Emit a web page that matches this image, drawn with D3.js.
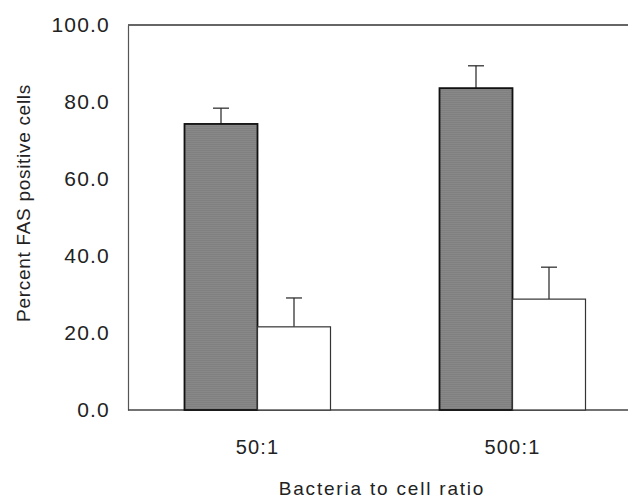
<!DOCTYPE html>
<html>
  <head>
    <meta charset="utf-8">
    <title>Percent FAS positive cells</title>
    <script src="https://d3js.org/d3.v7.min.js"></script>
    <style>
      body { margin: 0; background: #fff; }
      text { font-family: "Liberation Sans", Arial, sans-serif; fill: #222; }
    </style>
  </head>
  <body>
    <svg id="chart" width="628" height="499"></svg>
    <script>
      // data
      var ratios = ["50:1", "500:1"];
      var series = ["filled", "open"];
      var means = [[74.3, 21.6], [83.6, 28.8]];
      var errors = [[4.1, 7.5], [5.8, 8.3]];
      var yTicks = [0, 20, 40, 60, 80, 100];

      var margin = { top: 25, right: 0, bottom: 89, left: 128 };
      var svg = d3.select("#chart");
      var width = 628, height = 499;

      // halftone-ish fill for the dark bars
      var defs = svg.append("defs");
      var pat = defs.append("pattern")
        .attr("id", "halftone")
        .attr("width", 2).attr("height", 2)
        .attr("patternUnits", "userSpaceOnUse");
      pat.append("rect").attr("width", 2).attr("height", 2).attr("fill", "#bcbcbc");
      pat.append("rect").attr("width", 1).attr("height", 1).attr("fill", "#444");
      pat.append("rect").attr("x", 1).attr("y", 1).attr("width", 1).attr("height", 1).attr("fill", "#555");

      var y = d3.scaleLinear()
        .domain([0, 100])
        .range([height - margin.bottom, margin.top]);
      var x = d3.scaleBand()
        .domain(ratios)
        .range([margin.left + 2, 640]);
      var x1 = d3.scaleBand()
        .domain(series)
        .range([0, 146]);

      // frame: top line, left and bottom axes
      svg.append("line")
        .attr("x1", margin.left).attr("x2", width)
        .attr("y1", y(100)).attr("y2", y(100))
        .attr("stroke", "#333").attr("stroke-width", 1.5);

      var yAxis = svg.append("g")
        .attr("transform", "translate(" + margin.left + ",0)")
        .call(d3.axisLeft(y).tickValues(yTicks).tickSize(0).tickPadding(18).tickFormat(d3.format(".1f")));
      yAxis.select(".domain").attr("stroke", "#555").attr("stroke-width", 1.2);
      yAxis.selectAll("text")
        .style("font-size", "21px")
        .style("letter-spacing", "1.2px")
        .attr("fill", "#333");

      var xAxis = svg.append("g")
        .attr("transform", "translate(0," + y(0) + ")")
        .call(d3.axisBottom(x).tickSize(0).tickPadding(30));
      xAxis.select(".domain").attr("d", "M" + margin.left + ",0H" + width).attr("stroke", "#444").attr("stroke-width", 1.5);
      xAxis.selectAll("text")
        .style("font-size", "20px")
        .style("letter-spacing", "1.2px")
        .attr("fill", "#333");

      // bars
      var groups = svg.selectAll(".group")
        .data(ratios)
        .enter().append("g")
          .attr("class", "group")
          .attr("transform", function(d) { return "translate(" + (x(d) + x.bandwidth() / 2 - 73) + ",0)"; });

      groups.each(function(r, i) {
        var g = d3.select(this);
        series.forEach(function(s, j) {
          var v = means[i][j], e = errors[i][j];
          var cx = x1(s) + x1.bandwidth() / 2;
          // error bar (upper only)
          g.append("line")
            .attr("x1", cx).attr("x2", cx)
            .attr("y1", y(v)).attr("y2", y(v + e))
            .attr("stroke", "#222").attr("stroke-width", 1.2);
          g.append("line")
            .attr("x1", cx - 8).attr("x2", cx + 8)
            .attr("y1", y(v + e)).attr("y2", y(v + e))
            .attr("stroke", "#222").attr("stroke-width", 1.2);
          g.append("rect")
            .attr("x", x1(s))
            .attr("y", y(v))
            .attr("width", x1.bandwidth())
            .attr("height", y(0) - y(v))
            .attr("fill", j === 0 ? "url(#halftone)" : "#fff")
            .attr("stroke", j === 0 ? "#111" : "#333")
            .attr("stroke-width", j === 0 ? 1.8 : 1.2);
        });
      });

      // axis titles
      svg.append("text")
        .attr("transform", "translate(30," + 203 + ") rotate(-90)")
        .attr("text-anchor", "middle")
        .style("font-size", "19px")
        .style("letter-spacing", "0.7px")
        .text("Percent FAS positive cells");

      svg.append("text")
        .attr("x", 382)
        .attr("y", 495)
        .attr("text-anchor", "middle")
        .style("font-size", "19px")
        .style("letter-spacing", "1.8px")
        .text("Bacteria to cell ratio");
    </script>
  </body>
</html>
